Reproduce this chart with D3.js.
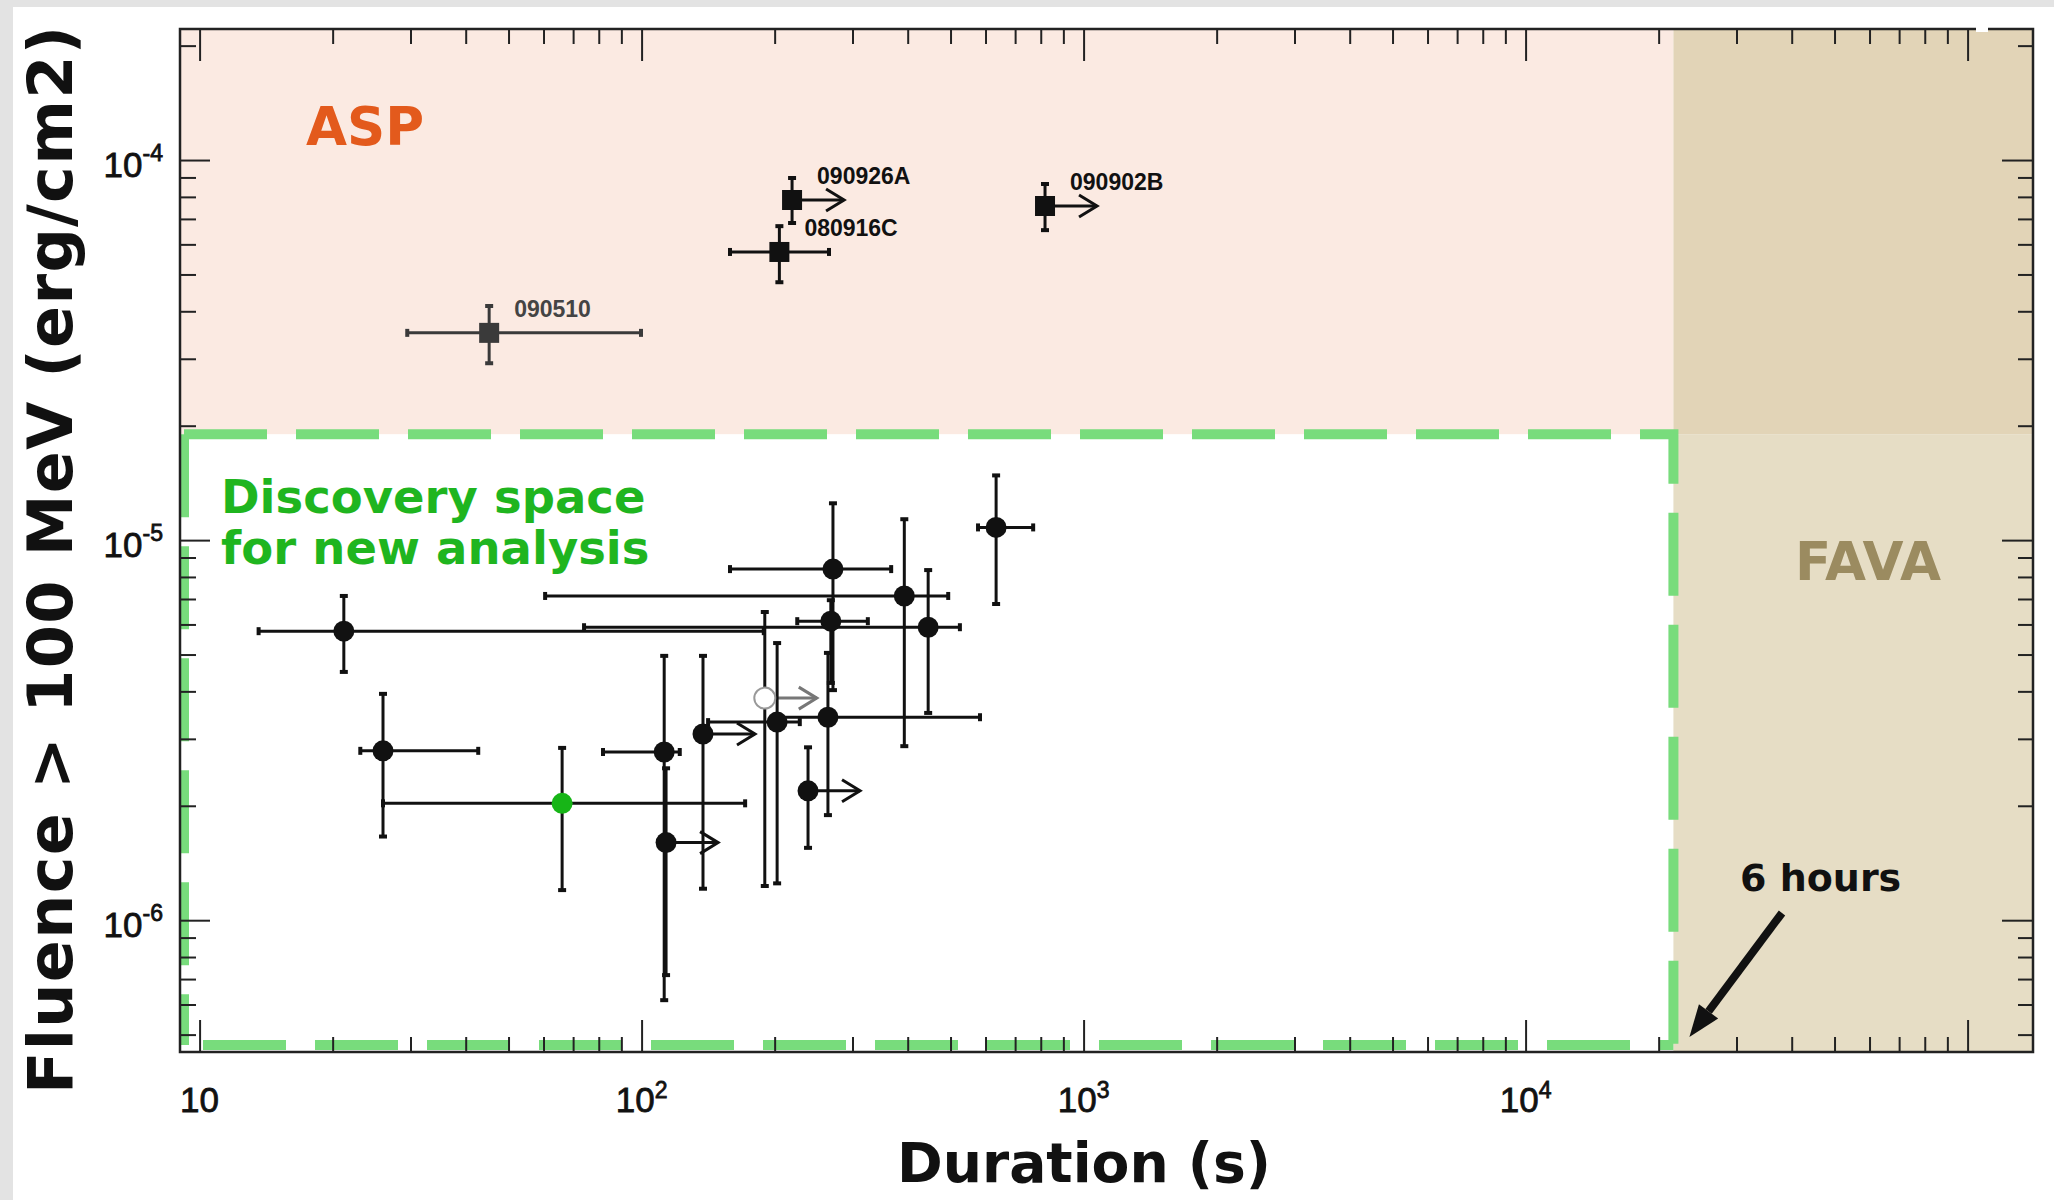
<!DOCTYPE html>
<html>
<head>
<meta charset="utf-8">
<script src="https://cdnjs.cloudflare.com/ajax/libs/d3/7.8.5/d3.min.js"></script>
<style>
  html, body { margin: 0; padding: 0; background: #fff; }
  svg { display: block; }
</style>
</head>
<body>
<svg id="chart" width="2054" height="1200"></svg>
<script>
const width = 2054;
const height = 1200;

// axis limits
const xDomain = [9.03, 1.406e5];
const yDomain = [4.5e-7, 2.212e-4];

// region boundaries
const sixHours = 21600;
const aspThreshold = 1.9e-5;

// bursts seen by ASP (squares)
const aspNames = ["090510", "080916C", "090926A", "090902B"];
const aspDuration = [45.2, 205, 219, 818];
const aspDurationLow = [29.5, 158.5, null, null];
const aspDurationHigh = [99.7, 265.5, null, null];
const aspLowerLimit = [false, false, true, true];
const aspFluence = [3.51e-5, 5.73e-5, 7.85e-5, 7.57e-5];
const aspFluenceLow = [2.92e-5, 4.77e-5, 6.83e-5, 6.54e-5];
const aspFluenceHigh = [4.13e-5, 6.70e-5, 8.97e-5, 8.65e-5];
const aspColor = ["#3a3a3a", "#111", "#111", "#111"];

// other bursts (circles)
const burstDuration = [21.2, 445, 393, 271, 268, 264, 190, 202.6, 137.7, 112.5, 113.6, 26.0, 66.1, 238, 634];
const burstDurationLow = [13.6, 74.1, 60.5, 158.5, 225, 201, null, 141.4, null, 81.8, null, 23.1, 26.0, null, 577];
const burstDurationHigh = [189, 525, 494, 367, 325, 583, null, 228, null, 122, null, 42.7, 171.5, null, 769];
const burstLowerLimit = [false, false, false, false, false, false, true, false, true, false, true, false, false, true, false];
const burstFluence = [5.76e-6, 5.90e-6, 7.13e-6, 8.39e-6, 6.12e-6, 3.42e-6, 3.84e-6, 3.32e-6, 3.09e-6, 2.77e-6, 1.60e-6, 2.79e-6, 2.03e-6, 2.19e-6, 1.08e-5];
const burstFluenceLow = [4.50e-6, 3.51e-6, 2.87e-6, 4.03e-6, 4.21e-6, 1.89e-6, 1.23e-6, 1.25e-6, 1.21e-6, 6.16e-7, 7.17e-7, 1.66e-6, 1.20e-6, 1.55e-6, 6.79e-6];
const burstFluenceHigh = [7.13e-6, 8.34e-6, 1.135e-5, 1.25e-5, 6.95e-6, 5.05e-6, 6.47e-6, 5.36e-6, 4.96e-6, 4.96e-6, 2.51e-6, 3.94e-6, 2.84e-6, 2.85e-6, 1.48e-5];
const burstKind = ["filled", "filled", "filled", "filled", "filled", "filled", "open", "filled", "filled", "filled", "filled", "filled", "green", "filled", "filled"];

const svg = d3.select("#chart");

const x = d3.scaleLog().domain(xDomain).range([180, 2033]);
const y = d3.scaleLog().domain(yDomain).range([1052, 29]);

const plotLeft = x.range()[0], plotRight = x.range()[1];
const plotTop = y.range()[1], plotBottom = y.range()[0];

// page frame
svg.append("rect").attr("width", width).attr("height", height).attr("fill", "#e3e3e3");
svg.append("rect").attr("x", 13).attr("y", 7).attr("width", width - 13).attr("height", height - 7).attr("fill", "#fff");

// shaded regions
const xSix = x(sixHours);
const yThr = y(aspThreshold);
svg.append("rect").attr("x", plotLeft).attr("y", plotTop).attr("width", xSix - plotLeft).attr("height", yThr - plotTop).attr("fill", "#fbeae2");
svg.append("rect").attr("x", xSix).attr("y", plotTop).attr("width", plotRight - xSix).attr("height", yThr - plotTop).attr("fill", "#e2d4b7");
svg.append("rect").attr("x", xSix).attr("y", yThr).attr("width", plotRight - xSix).attr("height", plotBottom - yThr).attr("fill", "#e6ddc5");

// discovery space dashed box
const green = "#78dc7c";
const boxBottom = plotBottom - 7;
svg.append("path")
    .attr("d", `M${plotLeft + 4},${yThr}H${xSix}V${boxBottom}`)
    .attr("fill", "none").attr("stroke", green).attr("stroke-width", 10)
    .attr("stroke-dasharray", "83 29");
svg.append("path")
    .attr("d", `M${plotLeft + 4},${yThr}V${boxBottom}`)
    .attr("fill", "none").attr("stroke", green).attr("stroke-width", 10)
    .attr("stroke-dasharray", "83 29");
svg.append("path")
    .attr("d", `M${plotLeft + 4},${boxBottom}H${xSix}`)
    .attr("fill", "none").attr("stroke", green).attr("stroke-width", 10)
    .attr("stroke-dasharray", "83 29").attr("stroke-dashoffset", -19);

// region labels
svg.append("text").attr("x", 306).attr("y", 145)
    .attr("font-family", "DejaVu Sans").attr("font-weight", "bold").attr("font-size", 53)
    .attr("fill", "#e35a1c").text("ASP");
svg.append("text").attr("x", 1795).attr("y", 580)
    .attr("font-family", "DejaVu Sans").attr("font-weight", "bold").attr("font-size", 53)
    .attr("fill", "#9b8b60").text("FAVA");
svg.append("text").attr("x", 221).attr("y", 513)
    .attr("font-family", "DejaVu Sans").attr("font-weight", "bold").attr("font-size", 46.5)
    .attr("fill", "#1fb51f").text("Discovery space");
svg.append("text").attr("x", 221).attr("y", 564)
    .attr("font-family", "DejaVu Sans").attr("font-weight", "bold").attr("font-size", 46.5)
    .attr("fill", "#1fb51f").text("for new analysis");

// 6 hours annotation
svg.append("text").attr("x", 1740).attr("y", 891)
    .attr("font-family", "DejaVu Sans").attr("font-weight", "bold").attr("font-size", 38)
    .attr("fill", "#111").text("6 hours");
{
    const tip = [xSix + 16, plotBottom - 15];
    const tail = [1782, 913];
    const dx = tip[0] - tail[0], dy = tip[1] - tail[1];
    const len = Math.hypot(dx, dy);
    const ux = dx / len, uy = dy / len;
    const base = [tip[0] - 32 * ux, tip[1] - 32 * uy];
    svg.append("line").attr("x1", tail[0]).attr("y1", tail[1]).attr("x2", base[0]).attr("y2", base[1])
        .attr("stroke", "#111").attr("stroke-width", 8);
    svg.append("path")
        .attr("d", `M${tip[0]},${tip[1]}L${base[0] + 12 * -uy},${base[1] + 12 * ux}L${base[0] - 12 * -uy},${base[1] - 12 * ux}Z`)
        .attr("fill", "#111");
}

// error bar helpers
const arrowLen = 52;
function errorBars(g, cx, cy, xl, xh, yl, yh, color) {
    if (xl != null) {
        g.append("line").attr("x1", xl).attr("x2", xh).attr("y1", cy).attr("y2", cy)
            .attr("stroke", color).attr("stroke-width", 3);
        [xl, xh].forEach(v => g.append("line").attr("x1", v).attr("x2", v).attr("y1", cy - 4).attr("y2", cy + 4)
            .attr("stroke", color).attr("stroke-width", 4));
    }
    g.append("line").attr("x1", cx).attr("x2", cx).attr("y1", yl).attr("y2", yh)
        .attr("stroke", color).attr("stroke-width", 3);
    [yl, yh].forEach(v => g.append("line").attr("x1", cx - 4).attr("x2", cx + 4).attr("y1", v).attr("y2", v)
        .attr("stroke", color).attr("stroke-width", 4));
}
function limitArrow(g, cx, cy, color) {
    const ex = cx + arrowLen;
    g.append("line").attr("x1", cx).attr("x2", ex).attr("y1", cy).attr("y2", cy)
        .attr("stroke", color).attr("stroke-width", 3);
    g.append("path").attr("d", `M${ex - 18},${cy - 11}L${ex},${cy}L${ex - 18},${cy + 11}`)
        .attr("fill", "none").attr("stroke", color).attr("stroke-width", 3);
}

const bars = svg.append("g");
const marks = svg.append("g");

// other bursts
burstDuration.forEach((d, i) => {
    const cx = x(d), cy = y(burstFluence[i]);
    const xl = burstDurationLow[i] == null ? null : x(burstDurationLow[i]);
    const xh = burstDurationHigh[i] == null ? null : x(burstDurationHigh[i]);
    const col = burstKind[i] == "open" ? "#777" : "#111";
    errorBars(bars, cx, cy, xl, xh, y(burstFluenceLow[i]), y(burstFluenceHigh[i]), "#111");
    if (burstLowerLimit[i]) limitArrow(bars, cx, cy, col);
});
burstDuration.forEach((d, i) => {
    const c = marks.append("circle").attr("cx", x(d)).attr("cy", y(burstFluence[i])).attr("r", 10.5);
    if (burstKind[i] == "open") c.attr("fill", "#fff").attr("stroke", "#999").attr("stroke-width", 2);
    else if (burstKind[i] == "green") c.attr("fill", "#17b517");
    else c.attr("fill", "#111");
});

// ASP bursts
aspDuration.forEach((d, i) => {
    const cx = x(d), cy = y(aspFluence[i]);
    const xl = aspDurationLow[i] == null ? null : x(aspDurationLow[i]);
    const xh = aspDurationHigh[i] == null ? null : x(aspDurationHigh[i]);
    errorBars(bars, cx, cy, xl, xh, y(aspFluenceLow[i]), y(aspFluenceHigh[i]), aspColor[i]);
    if (aspLowerLimit[i]) limitArrow(bars, cx, cy, "#111");
    marks.append("rect").attr("x", cx - 10).attr("y", cy - 10).attr("width", 20).attr("height", 20)
        .attr("fill", aspColor[i]);
    marks.append("text").attr("x", cx + 25).attr("y", cy - 16)
        .attr("font-family", "Liberation Sans").attr("font-weight", "bold").attr("font-size", 23)
        .attr("fill", aspColor[i] == "#111" ? "#111" : "#444").text(aspNames[i]);
});

// axes
const isMajor = v => Math.abs(Math.log10(v) - Math.round(Math.log10(v))) < 1e-6;
const xTicks = x.ticks();
const yTicks = y.ticks();
const xMajor = xTicks.filter(isMajor), xMinor = xTicks.filter(v => !isMajor(v));
const yMajor = yTicks.filter(isMajor), yMinor = yTicks.filter(v => !isMajor(v));

function addAxis(axis, tx, ty) {
    const g = svg.append("g").attr("transform", `translate(${tx},${ty})`).call(axis);
    g.select(".domain").remove();
    g.selectAll(".tick line").attr("stroke", "#222").attr("stroke-width", 2);
    g.selectAll(".tick text").remove();
}
addAxis(d3.axisBottom(x).tickValues(xMinor).tickSizeInner(-15).tickSizeOuter(0), 0, plotBottom);
addAxis(d3.axisBottom(x).tickValues(xMajor).tickSizeInner(-32).tickSizeOuter(0), 0, plotBottom);
addAxis(d3.axisTop(x).tickValues(xMinor).tickSizeInner(-15).tickSizeOuter(0), 0, plotTop);
addAxis(d3.axisTop(x).tickValues(xMajor).tickSizeInner(-32).tickSizeOuter(0), 0, plotTop);
addAxis(d3.axisLeft(y).tickValues(yMinor).tickSizeInner(-16).tickSizeOuter(0), plotLeft, 0);
addAxis(d3.axisLeft(y).tickValues(yMajor).tickSizeInner(-30).tickSizeOuter(0), plotLeft, 0);
addAxis(d3.axisRight(y).tickValues(yMinor).tickSizeInner(-15).tickSizeOuter(0), plotRight, 0);
addAxis(d3.axisRight(y).tickValues(yMajor).tickSizeInner(-31).tickSizeOuter(0), plotRight, 0);

svg.append("rect").attr("x", plotLeft).attr("y", plotTop).attr("width", plotRight - plotLeft).attr("height", plotBottom - plotTop)
    .attr("fill", "none").attr("stroke", "#222").attr("stroke-width", 2.5);
svg.append("rect").attr("x", 1976).attr("y", plotTop - 3).attr("width", 12).attr("height", 6).attr("fill", "#fff");

// tick labels
const xLabelTicks = [10, 100, 1000, 10000];
xLabelTicks.forEach(v => {
    const e = Math.round(Math.log10(v));
    const t = svg.append("text").attr("x", x(v)).attr("y", 1112).attr("text-anchor", "middle")
        .attr("font-family", "Liberation Sans").attr("font-size", 35)
        .attr("fill", "#111").attr("stroke", "#111").attr("stroke-width", 0.8).text("10");
    if (e > 1) t.append("tspan").attr("dy", -14).attr("font-size", 23).text(e);
});
yMajor.forEach(v => {
    const e = Math.round(Math.log10(v));
    const t = svg.append("text").attr("x", 163).attr("y", y(v) + 17).attr("text-anchor", "end")
        .attr("font-family", "Liberation Sans").attr("font-size", 35)
        .attr("fill", "#111").attr("stroke", "#111").attr("stroke-width", 0.8).text("10");
    t.append("tspan").attr("dy", -16).attr("font-size", 23).text(e);
});

// axis titles
svg.append("text").attr("x", 1084).attr("y", 1182).attr("text-anchor", "middle")
    .attr("font-family", "DejaVu Sans").attr("font-weight", "bold").attr("font-size", 56)
    .attr("textLength", 374).attr("lengthAdjust", "spacingAndGlyphs")
    .attr("fill", "#111").text("Duration (s)");
svg.append("text").attr("transform", "translate(72,560) rotate(-90)").attr("text-anchor", "middle")
    .attr("font-family", "DejaVu Sans").attr("font-weight", "bold").attr("font-size", 62)
    .attr("textLength", 1068).attr("lengthAdjust", "spacing")
    .attr("fill", "#111").text("Fluence > 100 MeV (erg/cm2)");
</script>
</body>
</html>
